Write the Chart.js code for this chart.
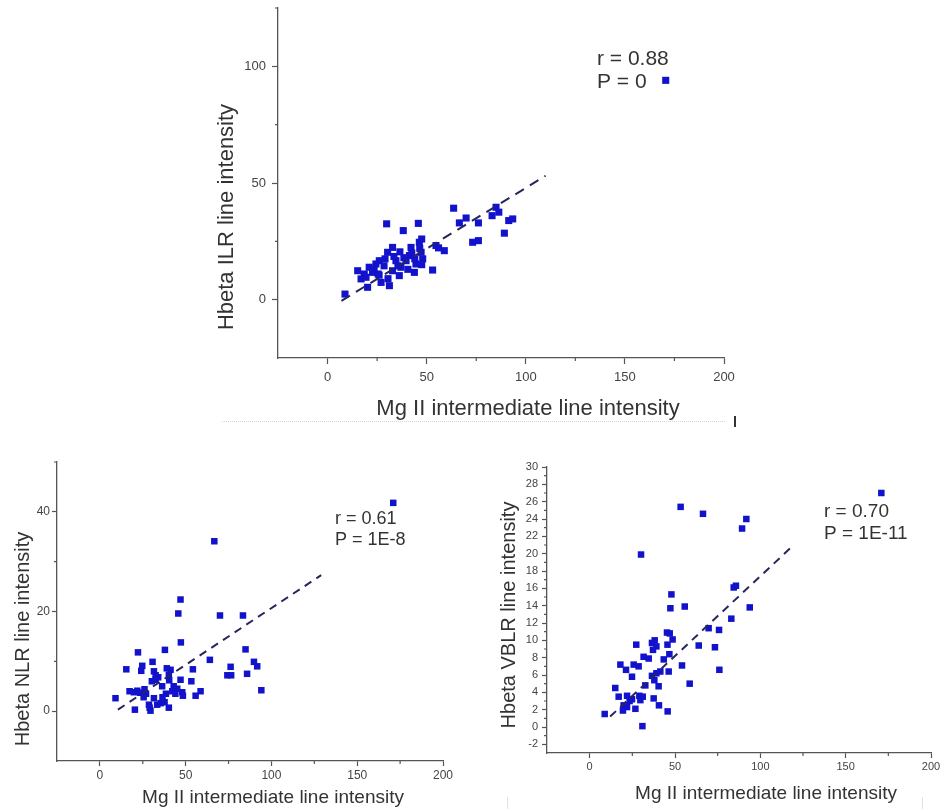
<!DOCTYPE html>
<html>
<head>
<meta charset="utf-8">
<title>Hbeta vs Mg II intermediate line intensity</title>
<script src="https://cdn.jsdelivr.net/npm/chart.js@4.4.1/dist/chart.umd.min.js"></script>
<style>
  body { margin: 0; background: #fff; }
  #figure { position: relative; width: 940px; height: 809px; overflow: hidden; background: #fff; }
  #figure canvas { position: absolute; left: 0; top: 0; }
  .rule { position: absolute; }
</style>
</head>
<body>
<div id="figure">
  <canvas id="ilrChart" width="940" height="809"></canvas>
  <canvas id="nlrChart" width="940" height="809"></canvas>
  <canvas id="vblrChart" width="940" height="809"></canvas>
  <div class="rule" style="left:222px;top:421px;width:503px;border-top:1px dotted #d6d6d6"></div>
  <div class="rule" style="left:734px;top:416px;width:2px;height:11px;background:#333"></div>
  <div class="rule" style="left:507px;top:797px;width:1px;height:12px;background:#e2e2e2"></div>
  <div class="rule" style="left:922px;top:797px;width:1px;height:12px;background:#e2e2e2"></div>
</div>
<script>
const FONT = '"Liberation Sans", Arial, sans-serif';
const DOT = '#1212cc';
const FIT = '#26265c';
const AXIS = '#555';
const TICK = '#444';
const TEXT = '#333';

// Hbeta ILR vs Mg II intermediate
const ilrMg = [8.8, 15.2, 16.9, 18.5, 20.2, 21, 22.7, 24.4, 26.1, 27, 29.8, 30.3, 31.2, 32.8, 32.8,
  34.5, 36.2, 37, 38.2, 39.6, 41.3, 42.1, 43.8, 44.6, 45.8, 46.3, 47.2, 48, 53, 54.7, 56, 58.9,
  63.6, 66.5, 69.9, 73.2, 76.1, 76.1, 83, 85, 86.4, 89.2, 91.4, 93.4, 170.6,
  19.4, 23.5, 25.5, 28.5, 29, 33.5, 35.5, 38.5, 40.5, 42.5, 44, 46.5, 47.5, 30.5, 26, 36.5, 47.5];
const ilrHb = [2.4, 12.4, 8.9, 11, 5.3, 13.9, 11.7, 15.3, 16.7, 7.4, 32.5, 20.3, 6, 22.4, 12.4,
  16.7, 10.3, 13.9, 29.6, 16.7, 18.9, 22.4, 11.7, 15.3, 32.7, 24.6, 20.3, 17.5, 12.7, 23.2, 22.2, 21,
  39.2, 32.9, 35, 24.6, 25.3, 32.9, 36, 39.6, 37.5, 28.5, 33.9, 34.6, 94,
  9.6, 13, 11, 14.5, 17.5, 18.5, 14.5, 18, 13, 20, 17.5, 22, 26, 9, 10.5, 20.5, 15];
const ilrFitX = [7, 110];
const ilrFitY = [-0.5, 53.1];
const ilrStats = ['r = 0.88', 'P = 0'];

// Hbeta NLR vs Mg II intermediate
const nlrMg = [171, 66.7, 47, 45.7, 70, 83.4, 47.2, 22.2, 37.9, 84.9, 64.1, 30.7, 89.8, 91.7, 24.7,
  15.4, 24.1, 41.2, 54.2, 76.2, 74.3, 85.8, 31.5, 40.2, 32.5, 47, 53.3, 36.3, 30.3, 17.3, 19.8,
  21.8, 26, 26.9, 42.2, 45.1, 48, 48.4, 58.7, 55.8, 94.1, 9.1, 31.5, 35.4, 37.7, 33.4, 40.2, 29,
  29.5, 20.4, 28.6, 76.5, 40.4, 44, 38.5, 23.5, 34, 36.5, 43, 25.5, 39, 32.5];
const nlrHb = [41.8, 34.1, 22.4, 19.6, 19.2, 19.2, 13.8, 11.8, 12.3, 12.4, 10.3, 9.9, 9.9, 9, 9.1,
  8.4, 8.1, 8.3, 8.4, 8.9, 7.2, 7.5, 8, 7.3, 6.3, 6.3, 6, 5, 6, 4, 3.8,
  4.1, 4.4, 3.5, 4, 4.5, 3.8, 3.1, 4, 3.1, 4.2, 2.6, 2.6, 1.6, 1.8, 1.3, 0.7, 0.7,
  0.1, 0.3, 1.3, 7.2, 6.2, 3.5, 3.5, 3.7, 6.8, 2.8, 5, 2.8, 8.6, 7.2];
const nlrFitX = [10.5, 129];
const nlrFitY = [0.3, 27.3];
const nlrStats = ['r = 0.61', 'P = 1E-8'];

// Hbeta VBLR vs Mg II intermediate
const vblrMg = [170.9, 53.3, 66.4, 91.8, 89.3, 30.1, 85.7, 84.4, 47.9, 55.7, 47.3, 93.8, 83, 69.7,
  75.8, 45.3, 46.9, 38.1, 48.6, 36.5, 63.9, 73.4, 27.3, 39.1, 45.6, 37.1, 46.7, 31.6, 34.6, 43.4,
  18, 25.8, 28.7, 54.1, 21.3, 76, 41.4, 46.3, 24.8, 36.5, 37.9, 39.1, 58.6, 32.6, 40.4, 15, 17,
  21.9, 29.1, 31.1, 37.5, 23.4, 24.8, 29.7, 19.9, 21.9, 26.8, 40.6, 19.5, 45.7, 8.8, 30.9];
const vblrHb = [27, 25.4, 24.6, 24, 22.9, 19.9, 16.3, 16.1, 15.3, 13.9, 13.7, 13.8, 12.5, 11.4,
  11.2, 10.9, 10.8, 10, 10.1, 9.7, 9.4, 9.2, 9.5, 9.3, 9.5, 8.9, 8.4, 8.1, 7.9, 7.8,
  7.2, 7.2, 7, 7.1, 6.6, 6.6, 6.4, 6.4, 5.8, 5.9, 5.4, 6.2, 5, 4.8, 4.7, 4.5, 3.5,
  3.6, 3.6, 3.5, 3.3, 3, 3.2, 3.1, 2.5, 2.3, 2.1, 2.5, 1.9, 1.8, 1.5, 0.1];
const vblrFitX = [12, 119];
const vblrFitY = [1.2, 20.9];
const vblrStats = ['r = 0.70', 'P = 1E-11'];

// tick values
const xMajor = [0, 50, 100, 150, 200];
const xMinor = [25, 75, 125, 175];
const ilrYMajor = [0, 50, 100];
const ilrYMinor = [25, 75, 125];
const nlrYMajor = [0, 20, 40];
const nlrYMinor = [10, 30, 50];
const vblrYMajor = [-2, 0, 2, 4, 6, 8, 10, 12, 14, 16, 18, 20, 22, 24, 26, 28, 30];
const vblrYMinor = [-1, 1, 3, 5, 7, 9, 11, 13, 15, 17, 19, 21, 23, 25, 27, 29];

function toPoints(xs, ys) {
    return xs.map((x, i) => ({ x: x, y: ys[i] }));
}

// short unlabeled ticks between the labeled ones
const minorTicks = {
    id: 'minorTicks',
    afterDraw(chart, args, opts) {
        const ctx = chart.ctx;
        const xs = chart.scales.x;
        const ys = chart.scales.y;
        ctx.save();
        ctx.strokeStyle = AXIS;
        ctx.lineWidth = 1.2;
        ctx.beginPath();
        opts.x.forEach(v => {
            const px = xs.getPixelForValue(v);
            ctx.moveTo(px, ys.bottom);
            ctx.lineTo(px, ys.bottom + opts.length);
        });
        opts.y.forEach(v => {
            const py = ys.getPixelForValue(v);
            ctx.moveTo(xs.left, py);
            ctx.lineTo(xs.left - opts.length, py);
        });
        ctx.stroke();
        ctx.restore();
    }
};

// axis titles and the r / P note
const panelText = {
    id: 'panelText',
    afterDraw(chart, args, opts) {
        const ctx = chart.ctx;
        ctx.save();
        ctx.fillStyle = TEXT;
        ctx.textBaseline = 'alphabetic';
        ctx.textAlign = 'center';
        ctx.font = opts.xTitleSize + 'px ' + FONT;
        ctx.fillText(opts.xTitle, opts.xTitleAt[0], opts.xTitleAt[1]);

        ctx.save();
        ctx.translate(opts.yTitleAt[0], opts.yTitleAt[1]);
        ctx.rotate(-Math.PI / 2);
        ctx.font = opts.yTitleSize + 'px ' + FONT;
        ctx.fillText(opts.yTitle, 0, 0);
        ctx.restore();

        ctx.textAlign = 'left';
        ctx.font = opts.statsSize + 'px ' + FONT;
        opts.stats.forEach((line, i) => {
            ctx.fillText(line, opts.statsAt[0], opts.statsAt[1] + i * opts.statsGap);
        });
        ctx.restore();
    }
};

function drawPanel(id, p) {
    return new Chart(document.getElementById(id), {
        type: 'scatter',
        data: {
            datasets: [
                {
                    type: 'line',
                    data: toPoints(p.fitX, p.fitY),
                    borderColor: FIT,
                    borderWidth: 2,
                    borderDash: p.dash,
                    pointRadius: 0,
                    fill: false
                },
                {
                    data: toPoints(p.mg, p.hb),
                    pointStyle: 'rect',
                    pointRadius: p.radius,
                    backgroundColor: DOT,
                    borderWidth: 0
                }
            ]
        },
        options: {
            responsive: false,
            animation: false,
            events: [],
            layout: { padding: p.padding },
            plugins: {
                legend: { display: false },
                tooltip: { enabled: false },
                minorTicks: { x: xMinor, y: p.yMinor, length: 3 },
                panelText: p.text
            },
            scales: {
                x: {
                    type: 'linear',
                    min: -25,
                    max: 200,
                    afterBuildTicks: s => { s.ticks = xMajor.map(v => ({ value: v })); },
                    afterFit: s => { s.height = p.xAxisHeight; s.paddingLeft = 0; s.paddingRight = 0; },
                    grid: { drawOnChartArea: false, tickLength: p.tickLength, tickColor: AXIS, tickWidth: 1.2 },
                    border: { color: AXIS, width: 1.3 },
                    ticks: { font: { family: FONT, size: p.tickSize }, color: TICK, padding: p.xPad, maxRotation: 0, autoSkip: false }
                },
                y: {
                    type: 'linear',
                    min: p.yMin,
                    max: p.yMax,
                    afterBuildTicks: s => { s.ticks = p.yMajor.map(v => ({ value: v })); },
                    afterFit: s => { s.width = p.yAxisWidth; s.paddingTop = 0; s.paddingBottom = 0; },
                    grid: { drawOnChartArea: false, tickLength: p.tickLength, tickColor: AXIS, tickWidth: 1.2 },
                    border: { color: AXIS, width: 1.3 },
                    ticks: { font: { family: FONT, size: p.tickSize }, color: TICK, padding: p.yPad, autoSkip: false }
                }
            }
        },
        plugins: [minorTicks, panelText]
    });
}

drawPanel('ilrChart', {
    mg: ilrMg, hb: ilrHb, fitX: ilrFitX, fitY: ilrFitY,
    yMin: -25, yMax: 125, yMajor: ilrYMajor, yMinor: ilrYMinor,
    padding: { left: 218, top: 8, right: 216, bottom: 411 },
    yAxisWidth: 60, xAxisHeight: 40,
    tickLength: 6, tickSize: 13, xPad: 6, yPad: 6,
    radius: 5, dash: [10, 7],
    text: {
        xTitle: 'Mg II intermediate line intensity', xTitleSize: 22, xTitleAt: [528, 415],
        yTitle: 'Hbeta ILR line intensity', yTitleSize: 22, yTitleAt: [233, 217],
        stats: ilrStats, statsSize: 21, statsAt: [597, 65], statsGap: 23
    }
});

drawPanel('nlrChart', {
    mg: nlrMg, hb: nlrHb, fitX: nlrFitX, fitY: nlrFitY,
    yMin: -10, yMax: 50, yMajor: nlrYMajor, yMinor: nlrYMinor,
    padding: { left: 17, top: 462, right: 497, bottom: 18 },
    yAxisWidth: 40, xAxisHeight: 30,
    tickLength: 5, tickSize: 12, xPad: 2, yPad: 2,
    radius: 4.6, dash: [8, 6],
    text: {
        xTitle: 'Mg II intermediate line intensity', xTitleSize: 19, xTitleAt: [273, 803],
        yTitle: 'Hbeta NLR line intensity', yTitleSize: 20, yTitleAt: [29, 639],
        stats: nlrStats, statsSize: 18, statsAt: [335, 524], statsGap: 21
    }
});

drawPanel('vblrChart', {
    mg: vblrMg, hb: vblrHb, fitX: vblrFitX, fitY: vblrFitY,
    yMin: -3, yMax: 30, yMajor: vblrYMajor, yMinor: vblrYMinor,
    padding: { left: 507, top: 467, right: 9, bottom: 26 },
    yAxisWidth: 40, xAxisHeight: 30,
    tickLength: 5, tickSize: 11, xPad: 2, yPad: 4,
    radius: 4.6, dash: [8, 6],
    text: {
        xTitle: 'Mg II intermediate line intensity', xTitleSize: 19, xTitleAt: [766, 799],
        yTitle: 'Hbeta VBLR line intensity', yTitleSize: 20, yTitleAt: [515, 615],
        stats: vblrStats, statsSize: 19, statsAt: [824, 517], statsGap: 22
    }
});
</script>
</body>
</html>
